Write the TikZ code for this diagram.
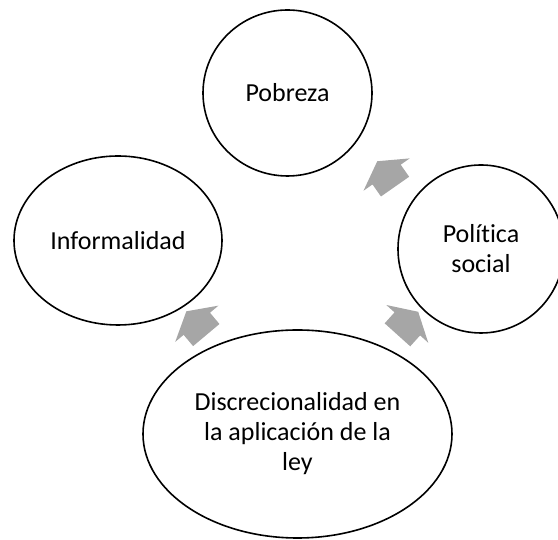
\documentclass[tikz,border=0pt]{standalone}
\usepackage{fontspec}
\setmainfont[Ligatures=NoCommon]{Carlito}
\usetikzlibrary{shapes.geometric,shapes.arrows}
\begin{document}
\begin{tikzpicture}[x=1pt, y=1pt,
  bubble/.style={draw, ellipse, line width=1.6pt, inner sep=0pt, align=center,
    font=\fontsize{26}{30}\selectfont},
  blockarr/.style={single arrow, fill=black!35, draw=none, inner xsep=0pt,
    inner ysep=17pt, minimum height=31pt, single arrow head extend=11pt,
    single arrow tip angle=120}]
  \useasboundingbox (0,0) rectangle (558,540);
  \node[bubble, minimum width=169pt, minimum height=166pt] (pob) at (287.5,447) {Pobreza};
  \node[bubble, minimum width=166pt, minimum height=168pt] (pol) at (481,291) {Política\\social};
  \node[bubble, minimum width=208pt, minimum height=169pt] (inf) at (118,299.5) {Informalidad};
  \node[bubble, minimum width=309pt, minimum height=208pt] (dis) at (297.5,106) {Discrecionalidad en\\la aplicación de la\\ley};
  \node[blockarr, rotate=125] (a1) at (389,362) {};
  \node[blockarr, rotate=130] (a2) at (199.5,213) {};
  \node[blockarr, rotate=48] (a3) at (404.5,213) {};
\end{tikzpicture}
\end{document}
